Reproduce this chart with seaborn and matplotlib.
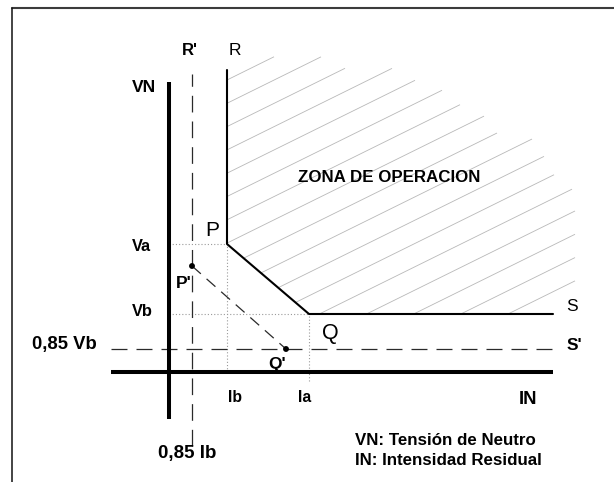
import matplotlib
matplotlib.use("Agg")
import matplotlib.pyplot as plt
from matplotlib.lines import Line2D
import numpy as np
import pandas as pd
import seaborn as sns

# Threshold levels of the directional earth-fault characteristic (diagram units)
ib, ia = 5.8, 14.0            # residual current thresholds Ib, Ia
va, vb = 12.8, 5.8            # neutral voltage thresholds Va, Vb
ib_red, vb_red = 2.3, 2.3     # reduced thresholds 0,85 Ib and 0,85 Vb
r_top, s_end = 30.2, 38.4     # far ends of branches R and S
p_red_v = 10.6                # voltage of point P'
q_red_i = 11.7                # current of point Q'

# Extents of the axes and guide lines
in_axis = [-5.75, 38.4]
vn_axis = [-4.7, 29.0]
r_red_span = [-7.4, 29.8]
ia_guide_low = -0.9

# Hatching of the operating zone
hatch_slope = 0.494
hatch_step = 2.33
hatch_first = 29.2
hatch_end = [10.5, 15.2, 17.6, 22.3, 24.6, 27.3, 29.1, 31.5, 32.8, 36.3,
             37.5, 38.5, 40.3, 40.6, 40.6, 40.6, 40.6]

# Characteristic R-P-Q-S and the reduced points P', Q'
char = pd.DataFrame({"IN": [ib, ib, ia, s_end], "VN": [r_top, va, vb, vb]})
red = pd.DataFrame({"IN": [ib_red, q_red_i], "VN": [p_red_v, vb_red]})

sns.set_theme(style="white")
plt.rcParams["font.family"] = ["Liberation Sans", "DejaVu Sans"]
plt.rcParams["lines.scale_dashes"] = False

W, H = 614, 482
fig = plt.figure(figsize=(W / 100, H / 100), dpi=100)
ax = fig.add_axes([0, 0, 1, 1])
ax.set_xlim(-16.9, (W - 169) / 10)
ax.set_ylim((372 - H) / 10, 37.2)
ax.axis("off")

# frame around the drawing
fig.add_artist(Line2D([12.3 / W, 1.0], [1 - 7.5 / H, 1 - 7.5 / H],
                      transform=fig.transFigure, color="#3c3c3c", lw=1.5))
fig.add_artist(Line2D([12.3 / W, 12.3 / W], [0, 1 - 7.5 / H],
                      transform=fig.transFigure, color="#111111", lw=1.1))

# hatch lines of the operating zone, starting on the characteristic
m_pq = (va - vb) / (ia - ib)
for k, x_end in enumerate(hatch_end):
    c = hatch_first - k * hatch_step
    if c >= va:
        x0 = ib
    else:
        x0 = ib + (va - c) / (hatch_slope + m_pq)
        if x0 > ia:
            x0 = ib + (vb - c) / hatch_slope
    xs = np.array([x0, x_end])
    ax.plot(xs, c + hatch_slope * (xs - ib), color="#b8b8b8", lw=0.6,
            solid_capstyle="butt", zorder=1)

# dotted guides for the thresholds
dot = dict(color="#9a9a9a", lw=0.8, ls=(0, (0.8, 1.5)), zorder=2)
ax.plot([0, ib], [va, va], **dot)
ax.plot([0, ia], [vb, vb], **dot)
ax.plot([ib, ib], [0, va], **dot)
ax.plot([ia, ia], [ia_guide_low, vb], **dot)

# reduced characteristic (dashed)
dash = dict(color="#2a2a2a", lw=0.9, zorder=3)
ax.plot([ib_red, ib_red], r_red_span, ls=(0, (12, 6.5)), **dash)
ax.plot(in_axis, [vb_red, vb_red], ls=(0, (11.5, 6.5)), **dash)
ax.plot(red["IN"], red["VN"], ls=(0, (8.5, 5.5)), **dash)

# axes VN and IN
ax.plot([0, 0], vn_axis, color="black", lw=2.9, solid_capstyle="butt", zorder=4)
ax.plot(in_axis, [0, 0], color="black", lw=2.9, solid_capstyle="butt", zorder=4)

# characteristic R-P-Q-S
sns.lineplot(data=char, x="IN", y="VN", sort=False, estimator=None,
             color="black", lw=1.5, ax=ax, zorder=5)
sns.scatterplot(data=red, x="IN", y="VN", color="black", s=18,
                edgecolor="none", ax=ax, zorder=6)
ax.axis("off")

def label(x, y, s, size, bold=True, ha="center"):
    ax.text(x, y, s, fontsize=size, fontweight="bold" if bold else "normal",
            ha=ha, va="baseline", color="black", zorder=7)

label(ib_red - 0.2, 31.7, "R'", 12)
label(ib + 0.75, 31.7, "R", 12.5, bold=False)
label(-2.5, 28.0, "VN", 12.6)
label(22.06, 18.97, "ZONA DE OPERACION", 12.2)
label(ib - 1.45, 13.62, "P", 15, bold=False)
label(-2.8, 12.1, "Va", 11.8)
label(ib_red - 0.85, 8.4, "P'", 12.5)
label(-2.7, 5.6, "Vb", 11.8)
label(40.3, 6.1, "S", 12.5, bold=False)
label(ia + 2.1, 3.3, "Q", 15.5, bold=False)
label(-10.5, 2.3, "0,85 Vb", 13.3)
label(40.55, 2.25, "S'", 12.5)
label(q_red_i - 0.9, 0.35, "Q'", 12.5)
label(ib + 0.77, -2.97, "Ib", 11.3)
label(ia - 0.45, -2.97, "Ia", 11.3)
label(35.85, -3.2, "IN", 13.3)
label(1.8, -8.6, "0,85 Ib", 13.5)
label(18.6, -7.3, "VN: Tensión de Neutro", 12.2, ha="left")
label(18.6, -9.3, "IN: Intensidad Residual", 12.2, ha="left")

fig.savefig("out.png", dpi=100)
